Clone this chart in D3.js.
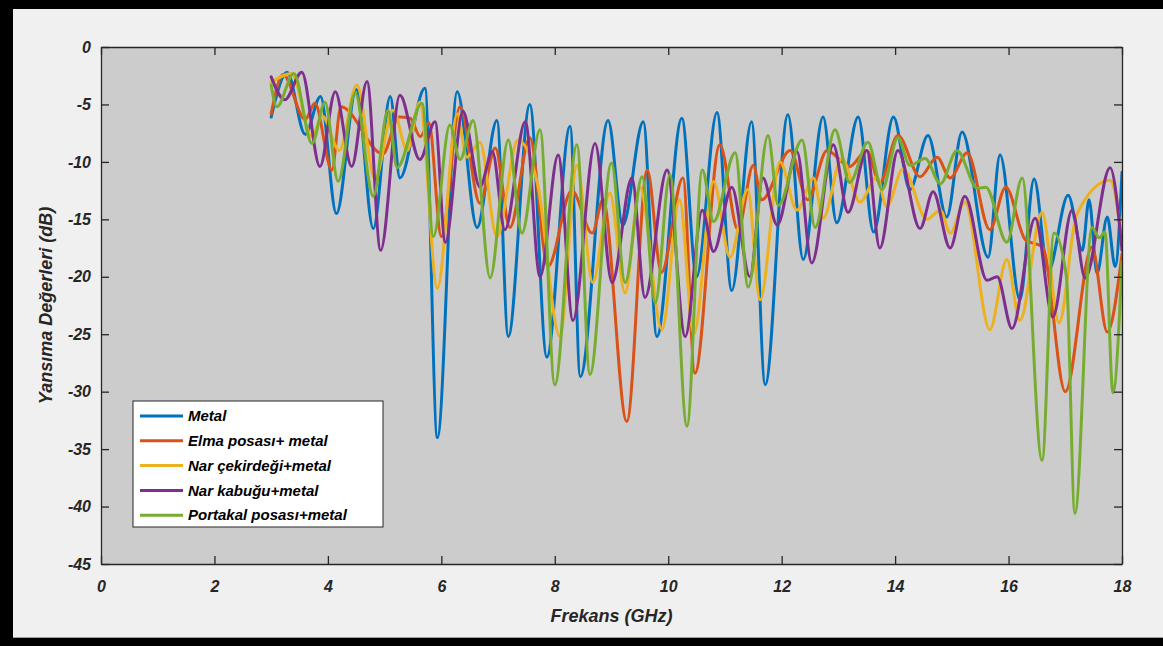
<!DOCTYPE html>
<html>
<head>
<meta charset="utf-8">
<script src="https://cdn.jsdelivr.net/npm/d3@7"></script>
<style>
  html, body { margin: 0; padding: 0; background: #000; }
  svg { display: block; }
</style>
</head>
<body>
<div id="chart"></div>
<script>
// values: [frequency GHz, reflection dB]
const metal = [
  [3.0, -6.1], [3.28, -2.2], [3.6, -7.6], [3.87, -4.3], [4.15, -14.5], [4.5, -3.7],
  [4.8, -15.8], [5.1, -4.3], [5.27, -11.4], [5.71, -3.6], [5.93, -34], [6.28, -3.9],
  [6.63, -15.7], [6.98, -6.4], [7.18, -25.2], [7.56, -5.0], [7.86, -27], [8.27, -6.9],
  [8.45, -28.7], [8.94, -6.4], [9.2, -15.5], [9.56, -6.5], [9.8, -25.2], [10.24, -6.2],
  [10.5, -20], [10.86, -5.7], [11.12, -21.2], [11.47, -6.5], [11.71, -29.4], [12.11, -5.9],
  [12.38, -18.5], [12.73, -6.1], [12.97, -15.3], [13.35, -6.1], [13.62, -16.1], [13.97, -6.1],
  [14.26, -12.4], [14.58, -7.7], [14.91, -14.8], [15.18, -7.4], [15.64, -18.3], [15.85, -9.4],
  [16.2, -22], [16.45, -11.5], [16.7, -19.5], [17.05, -12.9], [17.3, -17.7], [17.42, -13.3],
  [17.56, -19.7], [17.74, -14.8], [17.88, -19.1], [18.0, -10.9],
]

const elma = [
  [3.0, -5.8], [3.21, -2.4], [3.6, -6.3], [3.77, -4.9], [4.07, -10.7], [4.23, -5.2],
  [4.97, -9.3], [5.25, -6.1], [5.45, -6.2], [5.63, -7.8], [5.78, -6.6], [6.0, -16.5],
  [6.33, -5.2], [6.68, -13.6], [6.95, -8.8], [7.21, -15.7], [7.56, -7.9], [7.88, -19.1],
  [8.3, -12.5], [8.66, -16.2], [8.85, -13.3], [9.27, -32.6], [9.63, -10.7], [9.88, -19.6],
  [10.26, -11.4], [10.47, -28.4], [10.91, -8.5], [11.23, -15.9], [11.5, -10.3], [11.65, -13.3],
  [12.15, -9], [12.46, -13.3], [12.8, -9], [13.2, -10.4], [13.5, -9], [13.73, -11.8],
  [14.05, -7.7], [14.44, -11.3], [14.74, -9.6], [14.97, -11.4], [15.27, -9.2], [15.67, -15.9],
  [15.95, -12.2], [16.3, -16.8], [16.6, -17.4], [17.0, -30], [17.47, -17.4], [17.74, -24.8],
  [18.0, -18],
]

const cekirdek = [
  [3.0, -3.1], [3.36, -2.3], [3.72, -7.8], [3.9, -6.0], [4.2, -9.0], [4.51, -3.3],
  [4.83, -11.5], [5.15, -5.5], [5.4, -9], [5.62, -4.8], [5.93, -21], [6.28, -5.8],
  [6.45, -9.6], [6.68, -8.3], [6.98, -16.5], [7.35, -8.1], [7.7, -12], [8.09, -25.2],
  [8.39, -10.3], [8.67, -20.5], [8.97, -12.7], [9.24, -21.4], [9.5, -12.2], [9.89, -24.6],
  [10.2, -13.3], [10.45, -25], [10.8, -11.7], [11.09, -18.3], [11.4, -12.4], [11.62, -22],
  [11.97, -10], [12.27, -14.2], [12.56, -11.4], [12.73, -14.9], [13.06, -9.7], [13.38, -13.5],
  [13.68, -11.3], [13.85, -13.9], [14.14, -10.6], [14.56, -15], [14.8, -14.2], [14.97, -16.2],
  [15.23, -13.5], [15.67, -24.6], [15.97, -18.5], [16.2, -23.8], [16.59, -14.4], [16.89, -24],
  [17.2, -14.6], [17.79, -11.6], [18.0, -16.8],
]

const kabuk = [
  [3.0, -2.6], [3.24, -4.6], [3.54, -2.2], [3.86, -10.4], [4.13, -3.9], [4.42, -10.4],
  [4.69, -3.0], [4.93, -17.7], [5.27, -4.2], [5.62, -9.8], [5.89, -6.5], [6.07, -17],
  [6.38, -5.6], [6.68, -12.2], [6.9, -9.1], [7.12, -15.9], [7.48, -6.5], [7.74, -20],
  [8.06, -9.4], [8.32, -23.8], [8.71, -8.4], [9.01, -20.5], [9.36, -11.4], [9.59, -21.8],
  [9.98, -10.7], [10.3, -25.2], [10.6, -14.2], [10.8, -17.8], [11.12, -12.2], [11.44, -20],
  [11.67, -11.4], [11.92, -15.5], [12.27, -9.1], [12.53, -18.8], [12.91, -8.5], [13.17, -14.4],
  [13.5, -9], [13.73, -17.5], [14.05, -9], [14.44, -15.8], [14.67, -12.6], [14.97, -17.5],
  [15.23, -13], [15.62, -20.3], [15.8, -20], [16.06, -24.5], [16.47, -14.9], [16.78, -23.5],
  [17.12, -14.2], [17.35, -20.1], [17.79, -10.5], [18.0, -17.7],
]

const portakal = [
  [3.0, -3.3], [3.1, -5.2], [3.4, -2.3], [3.72, -8.4], [3.95, -4.8], [4.18, -11.7],
  [4.48, -4.0], [4.8, -13], [5.06, -5.5], [5.22, -10.5], [5.66, -4.9], [5.86, -16.5],
  [6.15, -6.8], [6.33, -9.8], [6.56, -6.4], [6.86, -20.1], [7.18, -8.1], [7.42, -16.2],
  [7.74, -7.2], [8.0, -29.4], [8.39, -8.5], [8.62, -28.5], [9.0, -10.1], [9.24, -20.5],
  [9.54, -11.3], [9.77, -22.3], [10.03, -11.1], [10.33, -33], [10.6, -10.7], [10.8, -15.2],
  [11.18, -9.2], [11.41, -20.9], [11.76, -7.7], [11.94, -13.8], [12.36, -8.1], [12.59, -15.7],
  [12.94, -7.2], [13.2, -11.8], [13.52, -8.3], [13.77, -12.4], [14.05, -7.9], [14.26, -10.3],
  [14.53, -9.7], [14.8, -11.9], [15.09, -9], [15.45, -12.3], [15.6, -12.2], [15.97, -17],
  [16.24, -11.4], [16.59, -36], [16.8, -16.2], [17.02, -20], [17.17, -40.6], [17.47, -15.7],
  [17.6, -16.6], [17.7, -16.1], [17.84, -30.1], [18.0, -18.7],
]

const seriesNames = [
  'Metal',
  'Elma posası+ metal',
  'Nar çekirdeği+metal',
  'Nar kabuğu+metal',
  'Portakal posası+metal',
]
const seriesData = [metal, elma, cekirdek, kabuk, portakal]
const seriesColors = ['#0072BD', '#D95319', '#EDB120', '#7E2F8E', '#77AC30']

const xTicks = [0, 2, 4, 6, 8, 10, 12, 14, 16, 18]
const yTicks = [0, -5, -10, -15, -20, -25, -30, -35, -40, -45]

const xAxisLabel = 'Frekans (GHz)'
const yAxisLabel = 'Yansıma Değerleri (dB)'

renderChart()

function renderChart() {
  const width = 1163
  const height = 646
  const plot = { left: 101, top: 47, right: 1122, bottom: 564 }
  const axisColor = '#262626'
  const font = "'Liberation Sans', Arial, sans-serif"

  const svg = d3
    .select('#chart')
    .append('svg')
    .attr('width', width)
    .attr('height', height)
    .style('font-family', font)

  // black frame + light figure background
  svg.append('rect').attr('width', width).attr('height', height).attr('fill', '#000')
  svg
    .append('rect')
    .attr('x', 13)
    .attr('y', 9)
    .attr('width', width - 13)
    .attr('height', 629)
    .attr('fill', '#f0f0f0')
  svg
    .append('line')
    .attr('x1', 13)
    .attr('x2', width)
    .attr('y1', 637.5)
    .attr('y2', 637.5)
    .attr('stroke', '#a0a0a0')

  const xScale = d3.scaleLinear().domain([0, 18]).range([plot.left, plot.right])
  const yScale = d3.scaleLinear().domain([-45, 0]).range([plot.bottom, plot.top])

  svg
    .append('rect')
    .attr('x', plot.left)
    .attr('y', plot.top)
    .attr('width', plot.right - plot.left)
    .attr('height', plot.bottom - plot.top)
    .attr('fill', '#cccccc')

  svg
    .append('clipPath')
    .attr('id', 'plot-clip')
    .append('rect')
    .attr('x', plot.left)
    .attr('y', plot.top)
    .attr('width', plot.right - plot.left)
    .attr('height', plot.bottom - plot.top)

  const line = d3
    .line()
    .x(d => xScale(d[0]))
    .y(d => yScale(d[1]))
    .curve(d3.curveMonotoneX)

  svg
    .append('g')
    .attr('clip-path', 'url(#plot-clip)')
    .selectAll('path.series')
    .data(seriesData)
    .join('path')
    .attr('class', 'series')
    .attr('d', d => line(d))
    .attr('fill', 'none')
    .attr('stroke', (d, i) => seriesColors[i])
    .attr('stroke-width', 3)
    .attr('stroke-linejoin', 'round')
    .attr('stroke-linecap', 'round')

  const styleAxis = g => {
    g.selectAll('.domain').attr('stroke', axisColor).attr('stroke-width', 1.3)
    g.selectAll('.tick line').attr('stroke', axisColor).attr('stroke-width', 1.3)
    g.selectAll('.tick text')
      .attr('fill', axisColor)
      .style('font-size', '16px')
      .style('font-weight', 'bold')
      .style('font-style', 'italic')
      .style('font-family', font)
  }

  // plain hyphen minus, like the reference
  const plainFormat = d => String(d)

  svg
    .append('g')
    .attr('transform', `translate(0, ${plot.bottom})`)
    .call(
      d3
        .axisBottom(xScale)
        .tickValues(xTicks)
        .tickFormat(plainFormat)
        .tickSize(-8)
        .tickSizeOuter(0)
        .tickPadding(17),
    )
    .call(styleAxis)

  svg
    .append('g')
    .attr('transform', `translate(0, ${plot.top})`)
    .call(d3.axisTop(xScale).tickValues(xTicks).tickSize(-8).tickSizeOuter(0).tickFormat(''))
    .call(styleAxis)

  svg
    .append('g')
    .attr('transform', `translate(${plot.left}, 0)`)
    .call(
      d3
        .axisLeft(yScale)
        .tickValues(yTicks)
        .tickFormat(plainFormat)
        .tickSize(-8)
        .tickSizeOuter(0)
        .tickPadding(10),
    )
    .call(styleAxis)

  svg
    .append('g')
    .attr('transform', `translate(${plot.right}, 0)`)
    .call(d3.axisRight(yScale).tickValues(yTicks).tickSize(-8).tickSizeOuter(0).tickFormat(''))
    .call(styleAxis)

  // axis labels
  svg
    .append('text')
    .attr('x', (plot.left + plot.right) / 2)
    .attr('y', 622)
    .attr('text-anchor', 'middle')
    .attr('fill', axisColor)
    .style('font-size', '18px')
    .style('font-weight', 'bold')
    .style('font-style', 'italic')
    .text(xAxisLabel)

  svg
    .append('text')
    .attr('transform', `translate(52, ${(plot.top + plot.bottom) / 2}) rotate(-90)`)
    .attr('text-anchor', 'middle')
    .attr('fill', axisColor)
    .style('font-size', '18px')
    .style('font-weight', 'bold')
    .style('font-style', 'italic')
    .text(yAxisLabel)

  // legend
  const legend = svg.append('g').attr('transform', 'translate(133, 401)')
  legend
    .append('rect')
    .attr('width', 250)
    .attr('height', 126)
    .attr('fill', '#fff')
    .attr('stroke', axisColor)
    .attr('stroke-width', 1)

  const rows = legend
    .selectAll('g.row')
    .data(seriesNames)
    .join('g')
    .attr('class', 'row')
    .attr('transform', (d, i) => `translate(0, ${15 + i * 24.8})`)

  rows
    .append('line')
    .attr('x1', 7)
    .attr('x2', 50)
    .attr('stroke', (d, i) => seriesColors[i])
    .attr('stroke-width', 3)

  rows
    .append('text')
    .attr('x', 55)
    .attr('dy', '0.35em')
    .attr('fill', '#000')
    .style('font-size', '15px')
    .style('font-weight', 'bold')
    .style('font-style', 'italic')
    .text(d => d)
}
</script>
</body>
</html>
